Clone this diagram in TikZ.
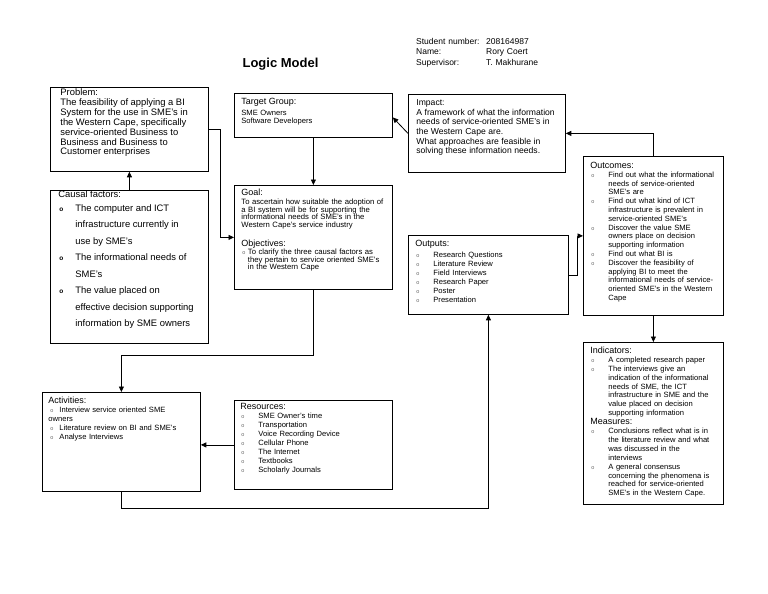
\documentclass[tikz,border=0pt]{standalone}
\usepackage{fontspec}
\setmainfont{Liberation Sans}
\usepackage{xcolor}
\usetikzlibrary{arrows.meta}

% font sizes used in the boxes
\newcommand{\lmhead}{\fontsize{9}{10}\selectfont}
\newcommand{\lmsmall}{\fontsize{7.6}{9}\selectfont}
\newcommand{\lmbig}{\fontsize{9.4}{10}\selectfont}
\newcommand{\lmdot}{{\fontsize{5.5}{5}\selectfont\color{black!60}o}}
\newcommand{\lmitem}[1][18pt]{\par\hangindent=#1\relax\hangafter=1\relax\noindent\makebox[#1][l]{\hspace{1pt}\lmdot}\ignorespaces}
\newcommand{\lmbul}{\par\hangindent=17pt\relax\hangafter=1\relax\noindent\makebox[17pt][l]{\hspace{1pt}{\fontsize{6.5}{6}\selectfont\bfseries o}}\ignorespaces}

\begin{document}
\begin{tikzpicture}[x=1pt, y=-1pt,
    lmbox/.style={draw, line width=0.8pt, anchor=north west, align=left,
                  inner xsep=7pt, inner ysep=4pt, text height=7pt, font=\lmsmall},
    conn/.style={-{Triangle[length=5.5pt, width=5pt]}, line width=0.8pt}
]
\useasboundingbox (0,0) rectangle (768,594);

% --- heading ---
\node[anchor=base, inner sep=0pt, font=\bfseries\fontsize{13}{15}\selectfont] (title) at (280.5,67) {Logic Model};
\node[anchor=north west, inner sep=0pt, align=left, text width=160pt, text height=7.5pt,
      font=\fontsize{8.5}{10.7}\selectfont] (info) at (416,36.5)
    {\makebox[70pt][l]{Student number:}208164987\\
     \makebox[70pt][l]{Name:}Rory Coert\\
     \makebox[70pt][l]{Supervisor:}T. Makhurane};

% --- left column ---
\node[lmbox, inner xsep=10pt, inner ysep=1pt, text width=138pt, text depth=75pt] (problem) at (50,87)
    {\lmbig Problem:\\ The feasibility of applying a BI\\ System for the use in SME's in\\
     the Western Cape, specifically\\ service-oriented Business to\\ Business and Business to\\
     Customer enterprises};

\node[lmbox, inner xsep=8pt, inner ysep=0pt, text width=142pt, text depth=146pt] (causal) at (50,190)
    {\lmbig Causal factors:\par\vspace{-2.5pt}
     \fontsize{9.4}{16.5}\selectfont
     \lmbul The computer and ICT\newline infrastructure currently in\newline use by SME's
     \lmbul The informational needs of\newline SME's
     \lmbul The value placed on\newline effective decision supporting\newline information by SME owners\par};

\node[lmbox, inner xsep=6pt, text width=146pt, text depth=84pt] (activities) at (42,392)
    {\lmhead Activities:\par\lmsmall
     \hspace*{2pt}\lmdot\hspace{6pt}Interview service oriented SME\\ owners\par
     \hspace*{2pt}\lmdot\hspace{6pt}Literature review on BI and SME's\par
     \hspace*{2pt}\lmdot\hspace{6pt}Analyse Interviews\par};

% --- middle column ---
\node[lmbox, inner ysep=4.5pt, text width=144pt, text depth=28pt] (target) at (234,93)
    {\lmhead Target Group:\par\vspace{2.5pt}\fontsize{7.6}{8}\selectfont
     SME Owners\\ Software Developers\par};

\node[lmbox, inner ysep=3pt, text width=144pt, text depth=91pt] (goal) at (234,185)
    {\lmhead Goal:\par\vspace{1.3pt}\fontsize{7.7}{7.7}\selectfont
     To ascertain how suitable the adoption of\\ a BI system will be for supporting the\\
     informational needs of SME's in the\\ Western Cape's service industry\par
     \vspace{10pt}{\lmhead Objectives:}\par
     \lmitem[6.5pt] To clarify the three causal factors as\newline they pertain to service oriented SME's\newline in the Western Cape\par};

\node[lmbox, inner xsep=6pt, inner ysep=2pt, text width=146pt, text depth=78pt] (resources) at (234,400)
    {\lmhead Resources:\par\lmsmall
     \lmitem SME Owner's time
     \lmitem Transportation
     \lmitem Voice Recording Device
     \lmitem Cellular Phone
     \lmitem The Internet
     \lmitem Textbooks
     \lmitem Scholarly Journals\par};

% --- right side ---
\node[lmbox, inner xsep=8pt, text width=141pt, text depth=63pt] (impact) at (408,94)
    {\fontsize{8.6}{9.7}\selectfont Impact:\\ A framework of what the information\\
     needs of service-oriented SME's in\\ the Western Cape are.\\
     What approaches are feasible in\\ solving these information needs.};

\node[lmbox, text width=146pt, text depth=64pt] (outputs) at (408,235)
    {\lmhead Outputs:\par\vspace{2pt}\lmsmall
     \lmitem Research Questions
     \lmitem Literature Review
     \lmitem Field Interviews
     \lmitem Research Paper
     \lmitem Poster
     \lmitem Presentation\par};

\node[lmbox, inner ysep=5pt, text width=126pt, text depth=142pt] (outcomes) at (583,156)
    {\lmhead Outcomes:\par\fontsize{7.6}{8.8}\selectfont
     \lmitem Find out what the informational\newline needs of service-oriented\newline SME's are
     \lmitem Find out what kind of ICT\newline infrastructure is prevalent in\newline service-oriented SME's
     \lmitem Discover the value SME\newline owners place on decision\newline supporting information
     \lmitem Find out what BI is
     \lmitem Discover the feasibility of\newline applying BI to meet the\newline informational needs of service-\newline oriented SME's in the Western\newline Cape\par};

\node[lmbox, text width=126pt, text depth=147pt] (indicators) at (583,342)
    {\lmhead Indicators:\par\fontsize{7.6}{8.9}\selectfont
     \lmitem A completed research paper
     \lmitem The interviews give an\newline indication of the informational\newline needs of SME, the ICT\newline infrastructure in SME and the\newline value placed on decision\newline supporting information
     \par{\lmhead Measures:}\par
     \lmitem Conclusions reflect what is in\newline the literature review and what\newline was discussed in the\newline interviews
     \lmitem A general consensus\newline concerning the phenomena is\newline reached for service-oriented\newline SME's in the Western Cape.\par};

% --- connectors ---
\draw[conn] (causal.north) -- (problem.south);
\draw[conn] (problem.east) -- ++(12,0) |- (goal.west);
\draw[conn] (target.south) -- (goal.north);
\draw[conn] (impact.west) -- ([yshift=-2pt]target.east);
\draw[conn] (outcomes.north) |- (impact.east);
\draw[conn] (outputs.east) -- ++(9,0) |- (outcomes.west);
\draw[conn] (outcomes.south) -- (indicators.north);
\draw[conn] (goal.south) -- ++(0,66) -| (activities.north);
\draw[conn] (resources.west) -- (resources.west -| activities.east);
\draw[conn] (activities.south) -- ++(0,17) -| (outputs.south);

\end{tikzpicture}
\end{document}
